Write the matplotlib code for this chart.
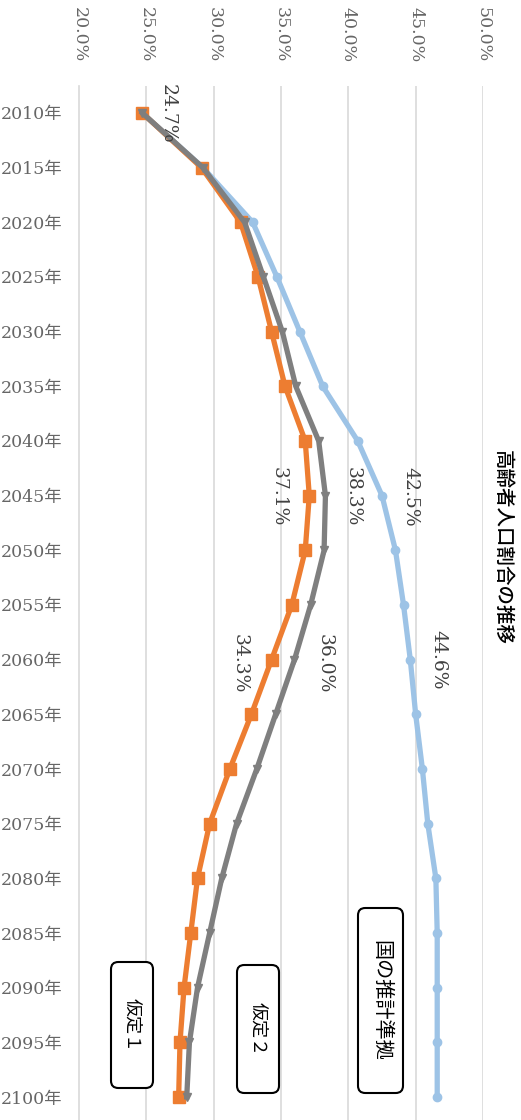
import matplotlib
matplotlib.use("Agg")
import matplotlib.pyplot as plt
from matplotlib.patches import FancyBboxPatch

# Projected share of population aged 65+ (%), by year
years = [2010, 2015, 2020, 2025, 2030, 2035, 2040, 2045, 2050, 2055,
         2060, 2065, 2070, 2075, 2080, 2085, 2090, 2095, 2100]
national_basis = [24.7, 29.2, 32.9, 34.7, 36.4, 38.1, 40.7, 42.5, 43.5, 44.1,
                  44.6, 45.0, 45.5, 45.9, 46.5, 46.6, 46.6, 46.6, 46.6]
scenario1 = [24.7, 29.1, 32.0, 33.3, 34.3, 35.3, 36.8, 37.1, 36.8, 35.8,
             34.3, 32.8, 31.2, 29.7, 28.8, 28.3, 27.8, 27.5, 27.4]
scenario2 = [24.7, 29.2, 32.3, 33.7, 35.1, 36.1, 37.8, 38.3, 38.2, 37.2,
             36.0, 34.6, 33.2, 31.7, 30.6, 29.7, 28.8, 28.2, 28.0]

pct_ticks = [20, 25, 30, 35, 40, 45, 50]
year_labels = [f"{y}年" for y in years]

# value labels: (series, year, text)
value_labels = [
    ("s1", 2010, "24.7%"),
    ("s1", 2045, "37.1%"),
    ("s2", 2045, "38.3%"),
    ("nat", 2045, "42.5%"),
    ("s1", 2060, "34.3%"),
    ("s2", 2060, "36.0%"),
    ("nat", 2060, "44.6%"),
]

W, H = 521, 1120
fig = plt.figure(figsize=(W / 100, H / 100), dpi=100)
fig.patch.set_facecolor("white")

ax = fig.add_axes([79 / W, 0, 404 / W, 1 - 86 / H])
ax.set_xlim(20, 50)
ax.set_ylim(2100 + 23 / 10.934, 2010 - 27 / 10.934)

blue = "#9DC3E6"
orange = "#ED7D31"
gray = "#7F7F7F"

ax.plot(national_basis, years, color=blue, lw=3.8, marker="o", ms=6,
        zorder=3, solid_joinstyle="round")
ax.plot(scenario1, years, color=orange, lw=3.8, marker="s", ms=8,
        zorder=4, solid_joinstyle="round")
ax.plot(scenario2, years, color=gray, lw=3.8, marker="v", ms=5.5,
        zorder=5, solid_joinstyle="round")

# vertical gridlines
for v in pct_ticks[1:]:
    ax.axvline(v, color="#d9d9d9", lw=1.2, zorder=1)

for s in ["top", "right", "bottom"]:
    ax.spines[s].set_visible(False)
ax.spines["left"].set_color("#d9d9d9")
ax.spines["left"].set_linewidth(1.2)

tick_font = ["DejaVu Serif", "Noto Sans CJK JP"]
ax.xaxis.tick_top()
ax.set_xticks(pct_ticks)
ax.set_xticklabels([f"{v:.1f}%" for v in pct_ticks], rotation=-90,
                   family=tick_font, fontsize=12.5, color="#666666")
ax.tick_params(axis="x", length=0, pad=17)

ax.set_yticks(years)
ax.set_yticklabels(year_labels, family=tick_font, fontsize=12.5,
                   color="#666666")
ax.tick_params(axis="y", length=0, pad=12)

series = {"nat": national_basis, "s1": scenario1, "s2": scenario2}
offsets = {
    ("s1", 2010): (25, 1),
    ("s1", 2045): (-31, 1),
    ("s2", 2045): (27, 1),
    ("nat", 2045): (28, 1),
    ("s1", 2060): (-32, 4),
    ("s2", 2060): (30, 4),
    ("nat", 2060): (28, 0),
}
for key, yr, txt in value_labels:
    val = series[key][years.index(yr)]
    dx, dy = offsets[(key, yr)]
    ax.annotate(txt, xy=(val, yr), xytext=(dx, -dy),
                textcoords="offset pixels", rotation=-90,
                ha="center", va="center", family="DejaVu Serif",
                fontsize=13.5, color="#404040", zorder=6)

# title
fig.text(502 / W, 1 - 548 / H, "高齢者人口割合の推移", rotation=-90,
         ha="center", va="center", family=["Noto Sans CJK JP", "DejaVu Sans"],
         fontsize=14, color="black", weight="medium")

# series name boxes
boxes = [
    ("国の推計準拠", 358, 908, 403, 1093, 14.5),
    ("仮定２", 237, 965, 279, 1093, 13),
    ("仮定１", 111, 962, 153, 1088, 13),
]
for txt, x0, y0, x1, y1, fs in boxes:
    patch = FancyBboxPatch((x0 / W, 1 - y1 / H), (x1 - x0) / W, (y1 - y0) / H,
                           boxstyle="round,pad=0,rounding_size=0.014",
                           transform=fig.transFigure, facecolor="white",
                           edgecolor="black", lw=1.5, zorder=10,
                           mutation_aspect=W / H)
    fig.add_artist(patch)
    fig.text((x0 + x1) / 2 / W, 1 - (y0 + y1) / 2 / H, txt, rotation=-90,
             ha="center", va="center", family=["Noto Sans CJK JP", "DejaVu Sans"],
             fontsize=fs, color="black", zorder=11)

fig.savefig("out.png", dpi=100)
